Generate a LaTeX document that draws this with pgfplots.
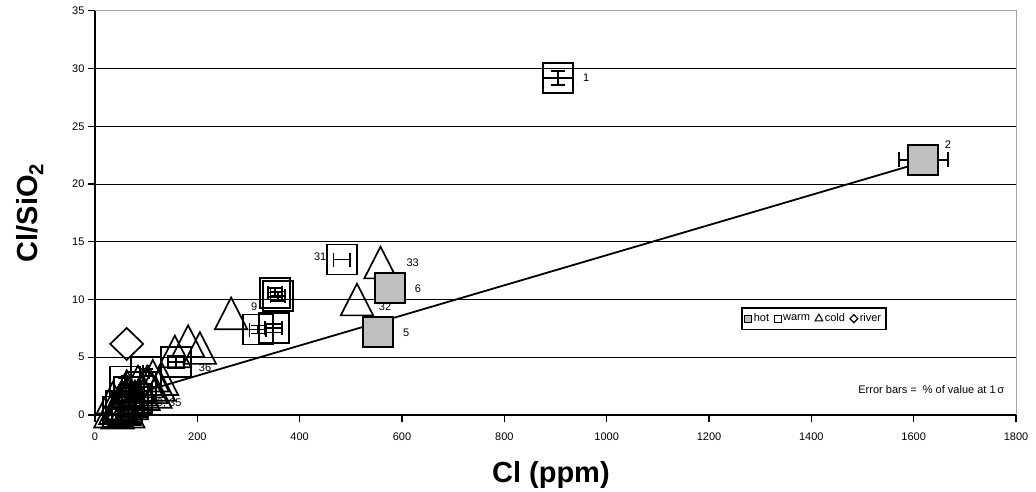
\documentclass[border=0pt]{standalone}
\usepackage{pgfplots}
\usepackage{pgfplotstable}
\pgfplotsset{compat=1.18}
\usepackage{fontspec}
\setmainfont{Liberation Sans}

\pgfplotstableread{
x y ex ey
905 29.2 29 0.6
482 13.46 16 0.0
318 7.4 16 0.35
349 7.5 16 0.35
352 10.6 14 0.4
357 10.3 14 0.4
158 4.6 16 0.5
66 2.0 6 0.3
100 3.7 6 0.3
74 1.1 6 0.3
82 1.4 6 0.3
50 0.8 5 0.2
58 2.9 5 0.3
45 0.3 5 0.2
62 0.6 5 0.2
90 2.4 6 0.3
}\warm

\pgfplotstableread{
x y ex ey
1619 22.1 47.5 0.45
553 7.2 16 0.15
576 11.0 16 0.22
}\hot

\pgfplotstableread{
x y
35 1.5
40 0.6
48 1.0
55 1.4
58 0.5
62 2.5
68 1.9
72 1.0
84 2.9
90 2.2
102 2.9
110 2.4
113 3.4
125 2.6
131 3.1
30 0.3
44 0.2
52 0.7
65 0.3
78 1.6
95 1.8
118 2.0
156 5.5
182 6.4
205 5.8
266 8.8
512 10.0
558 13.2
}\cold

\pgfplotstableread{
x y
62 6.15
}\river

\begin{document}
\begin{tikzpicture}
\useasboundingbox (-95pt,-76pt) rectangle (941pt,415pt);
\begin{axis}[
  scale only axis, width=921pt, height=404.3pt,
  xmin=0, xmax=1800, ymin=0, ymax=35,
  xtick={0,200,...,1800}, ytick={0,5,...,35},
  axis x line*=bottom, axis y line*=left,
  axis line style={line width=1.8pt, -},
  tick align=outside, major tick length=7pt,
  tick style={line width=1.2pt, black},
  ymajorgrids, grid style={black, line width=0.9pt},
  font=\fontsize{11}{13}\selectfont,
  xticklabel style={yshift=-7pt},
  /pgf/number format/assume math mode=true,
  /pgf/number format/1000 sep={},
  xlabel={Cl (ppm)},
  ylabel={Cl/SiO\textsubscript{2}},
  xlabel style={font=\fontsize{29}{33}\selectfont\bfseries, at={(axis description cs:0.495,-0.148)}, anchor=center},
  ylabel style={font=\fontsize{29}{33}\selectfont\bfseries, at={(axis description cs:-0.0706,0.5)}, anchor=center},
  clip=false,
  legend columns=4,
  legend style={at={(axis description cs:0.86,0.267)}, anchor=north east,
    draw=black, line width=1.8pt, font=\fontsize{11}{13}\selectfont,
    inner ysep=4pt, inner xsep=3pt, /tikz/every even column/.append style={column sep=3pt}},
]
\draw[gray!70, line width=0.8pt] (rel axis cs:0,1) -- (rel axis cs:1,1) -- (rel axis cs:1,0);

% cold
\addplot[only marks, mark=triangle, mark size=18.7pt, forget plot,
  mark options={line width=1.7pt, draw=black, yshift=-5.3pt, yscale=1.13}]
  table[x=x,y=y] {\cold};
% river
\addplot[only marks, mark=diamond, mark size=16pt, forget plot,
  mark options={line width=1.7pt, draw=black, xscale=1.375}]
  table[x=x,y=y] {\river};
% warm
\addplot[only marks, mark=square, mark size=15pt, forget plot,
  mark options={line width=1.9pt, draw=black},
  error bars/.cd, x dir=both, x explicit, y dir=both, y explicit,
  error bar style={line width=1.8pt, black},
  error mark options={rotate=90, mark size=7pt, line width=1.8pt, black}]
  table[x=x,y=y,x error=ex,y error=ey] {\warm};
% hot
\addplot[only marks, mark=square*, mark size=15pt, forget plot,
  mark options={line width=1.9pt, draw=black, fill=black!25},
  error bars/.cd, x dir=both, x explicit, y dir=both, y explicit,
  error bar style={line width=1.8pt, black},
  error mark options={rotate=90, mark size=7.5pt, line width=1.8pt, black}]
  table[x=x,y=y,x error=ex,y error=ey] {\hot};
% trend line
\addplot[black, line width=1.8pt, no marks, forget plot] coordinates {(100,2.1) (1626,22.0)};

\addlegendimage{only marks, mark=square*, mark size=3.5pt, mark options={fill=black!25, draw=black, line width=1pt}}
\addlegendentry{hot}
\addlegendimage{only marks, mark=square, mark size=3.5pt, mark options={draw=black, line width=1pt}}
\addlegendentry{warm}
\addlegendimage{only marks, mark=triangle, mark size=4.5pt, mark options={draw=black, line width=1pt}}
\addlegendentry{cold}
\addlegendimage{only marks, mark=diamond, mark size=4pt, mark options={draw=black, line width=1.2pt, xscale=1.3}}
\addlegendentry{river}

\node[font=\fontsize{11}{13}\selectfont] at (axis cs:960,29.2) {1};
\node[font=\fontsize{11}{13}\selectfont] at (axis cs:1667,23.4) {2};
\node[font=\fontsize{11}{13}\selectfont] at (axis cs:440,13.7) {31};
\node[font=\fontsize{11}{13}\selectfont] at (axis cs:621,13.2) {33};
\node[font=\fontsize{11}{13}\selectfont] at (axis cs:631,10.9) {6};
\node[font=\fontsize{11}{13}\selectfont] at (axis cs:567,9.35) {32};
\node[font=\fontsize{11}{13}\selectfont] at (axis cs:608,7.1) {5};
\node[font=\fontsize{11}{13}\selectfont] at (axis cs:311,9.35) {9};
\node[font=\fontsize{11}{13}\selectfont] at (axis cs:215,4.07) {36};
\node[font=\fontsize{11}{13}\selectfont] at (axis cs:139,1.04) {29, 35};
\node[anchor=east, font=\fontsize{11}{13}\selectfont] at (axis cs:1784,2.16) {Error bars =\ \ \% of value at 1\,σ};
\end{axis}
\end{tikzpicture}
\end{document}
